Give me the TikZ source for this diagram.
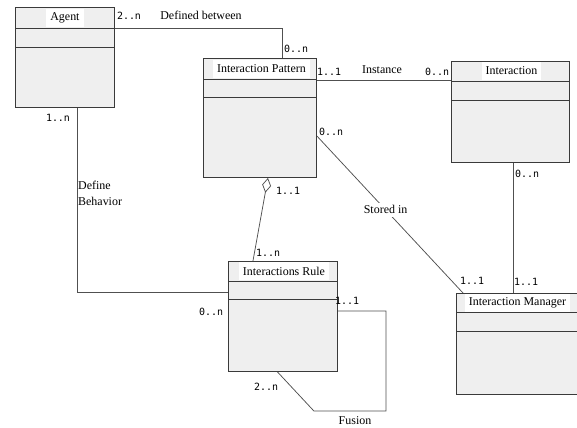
\documentclass[tikz,border=0pt]{standalone}
\usepackage{fontspec}
\setmainfont{Liberation Serif}
\newfontfamily\multfont{DejaVu Sans Mono}
\usetikzlibrary{calc, positioning, arrows.meta}

\definecolor{boxgray}{HTML}{EFEFEF}
\definecolor{linegray}{HTML}{3A3A3A}
\definecolor{assocgray}{HTML}{505050}

\tikzset{
    umlclass/.style={draw=linegray, fill=boxgray, line width=0.9bp, anchor=north west, inner sep=0pt},
    umltitle/.style={fill=white, inner xsep=4bp, inner ysep=0pt, minimum height=18bp, font=\fontsize{12}{12}\selectfont},
    mult/.style={font=\multfont\fontsize{10}{10}\selectfont, inner sep=0pt},
    rolelabel/.style={font=\fontsize{12}{16}\selectfont, inner sep=0pt},
    assoc/.style={draw=assocgray, line width=0.75bp},
}

\begin{document}
\begin{tikzpicture}[x=1bp, y=-1bp]
    \useasboundingbox (0,0) rectangle (577,427);

    % classes
    \node[umlclass, minimum width=99bp, minimum height=100bp] (agent) at (15,7) {};
    \node[umlclass, minimum width=113bp, minimum height=119bp] (ip) at (203,58) {};
    \node[umlclass, minimum width=118bp, minimum height=101bp] (inter) at (451,61) {};
    \node[umlclass, minimum width=109bp, minimum height=110bp] (ir) at (228,261) {};
    \node[umlclass, minimum width=122bp, minimum height=101bp] (im) at (456,293) {};

    % compartments
    \foreach \n/\a/\b in {agent/21/40, ip/21/39, inter/20/39, ir/20/38, im/19/38} {
        \draw[linegray, line width=0.9bp] ($(\n.north west)+(0,\a)$) -- ($(\n.north east)+(0,\a)$);
        \draw[linegray, line width=0.9bp] ($(\n.north west)+(0,\b)$) -- ($(\n.north east)+(0,\b)$);
    };

    % titles
    \node[umltitle] (agent-title) at ($(agent.north)+(0,10.5)$) {Agent};
    \node[umltitle] (ip-title) at ($(ip.north)+(1.5,10.5)$) {Interaction Pattern};
    \node[umltitle] (inter-title) at ($(inter.north)+(1,10)$) {Interaction};
    \node[umltitle] (ir-title) at ($(ir.north)+(1,10)$) {Interactions Rule};
    \node[umltitle] (im-title) at ($(im.north)+(0,9.5)$) {Interaction Manager};

    % associations
    \draw[assoc] ($(agent.north east)+(0,21)$) -| ($(ip.north west)+(79,0)$);
    \draw[assoc] ($(ip.north east)+(0,22)$) -- ($(inter.north west)+(0,19)$);
    \draw[assoc] ($(agent.south)+(12.5,0)$) |- ($(ir.north west)+(0,31)$);
    \draw[assoc, {Diamond[open, length=15bp, width=9bp]}-] ($(ip.south)+(8,0)$) -- ($(ir.north)+(-30,0)$);
    \draw[assoc] ($(ip.north east)+(0,78)$) -- node[rolelabel, fill=white, pos=0.47, inner sep=3bp] (stored) {Stored in} ($(im.north west)+(7,0)$);
    \coordinate (inter-down) at ($(inter.south)+(3,0)$);
    \draw[assoc] (inter-down) -- (inter-down |- im.north);
    \draw[assoc] ($(ir.north east)+(0,50)$) -- ++(48,0) -- ++(0,100) -- ++(-72,0) -- ($(ir.south)+(-5.5,0)$);

    % association names
    \node[rolelabel] (def-between) at (201,15) {Defined between};
    \node[rolelabel] (instance) at (382,70) {Instance};
    \node[rolelabel, anchor=north west, align=left] (def-behavior) at (78,181) {Define\\Behavior};
    \node[rolelabel] (fusion) at (355,421) {Fusion};

    % multiplicities
    \node[mult] (m1) at (129,16) {2..n};
    \node[mult] (m2) at (296,49) {0..n};
    \node[mult] (m3) at (329,72) {1..1};
    \node[mult] (m4) at (437,72) {0..n};
    \node[mult] (m5) at (58,118) {1..n};
    \node[mult] (m6) at (288,191) {1..1};
    \node[mult] (m7) at (268,253) {1..n};
    \node[mult] (m8) at (331,132) {0..n};
    \node[mult] (m9) at (527,174) {0..n};
    \node[mult] (m10) at (472,281) {1..1};
    \node[mult] (m11) at (526,282) {1..1};
    \node[mult] (m12) at (211,312) {0..n};
    \node[mult] (m13) at (347,301) {1..1};
    \node[mult] (m14) at (266,387) {2..n};
\end{tikzpicture}
\end{document}
